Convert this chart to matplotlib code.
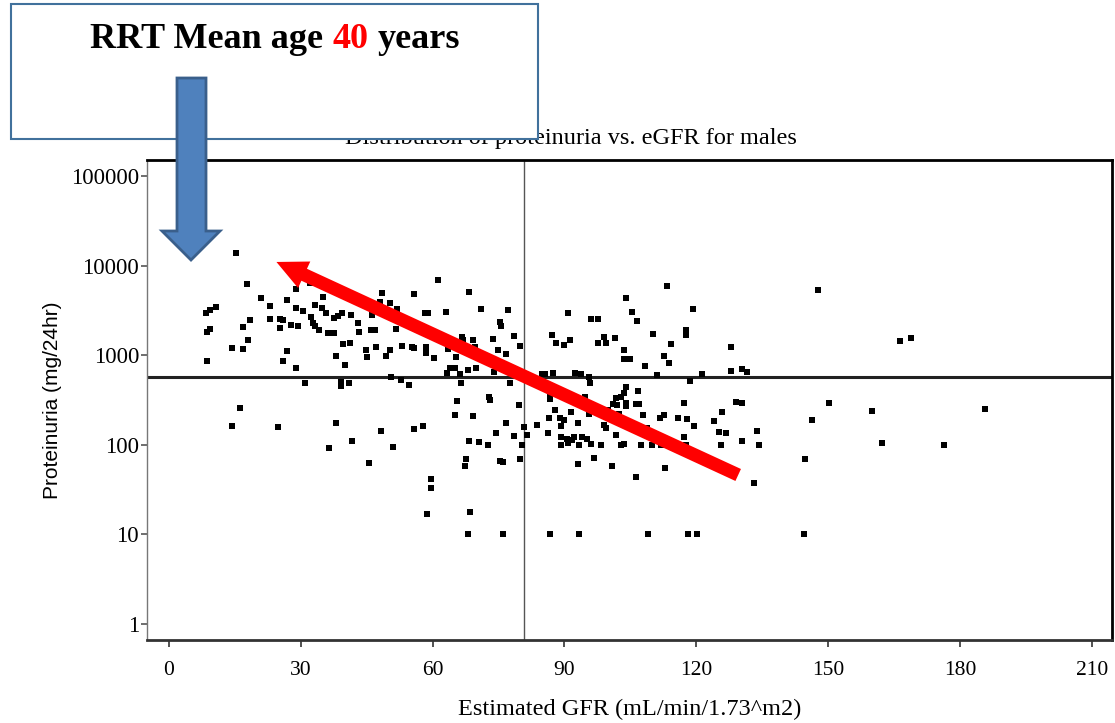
import matplotlib
matplotlib.use('Agg')
import matplotlib.pyplot as plt
from matplotlib.patches import Rectangle, Polygon
from matplotlib.offsetbox import TextArea, HPacker, AnnotationBbox
from matplotlib.ticker import NullLocator

# eGFR (mL/min/1.73m2) and proteinuria (mg/24hr) per patient
egfr = [15.2, 17.9, 21.1, 23.1, 26.8, 29.0, 32.2, 35.1, 8.4, 9.3, 10.7, 18.4, 17.0, 23.1, 25.2, 26.1,
        25.4, 27.7, 29.5, 29.0, 30.6, 33.3, 34.9, 32.4, 32.9, 33.3, 34.2, 35.8, 37.6, 38.5, 39.5, 41.5,
        43.1, 43.3, 46.3, 46.0, 46.9, 48.5, 48.1, 50.3, 51.9, 51.7, 36.3, 37.6, 8.8, 9.3, 18.1, 14.5,
        16.8, 8.8, 27.0, 26.1, 29.0, 38.1, 40.1, 39.7, 41.3, 44.9, 45.1, 47.2, 49.4, 50.3, 50.6, 31.1,
        39.2, 41.0, 39.2, 16.3, 14.5, 24.9, 38.1, 48.3, 41.7, 36.5, 51.0, 45.6,
        61.2, 55.8, 68.3, 58.3, 59.0, 63.0, 71.0, 77.1, 75.3, 75.5, 66.7, 66.9, 69.2, 73.7, 78.5, 79.8,
        53.1, 55.3, 55.8, 58.5, 58.5, 60.3, 63.5, 65.3, 69.6, 74.8, 76.6, 63.9, 65.1, 63.3, 66.2, 68.0,
        69.8, 73.9, 52.8, 54.6, 66.4, 77.6, 72.8, 73.0, 65.5, 79.6, 65.1, 69.2, 55.8, 57.8, 76.6, 80.7,
        74.4, 78.5, 68.3, 70.5, 72.6, 80.3, 67.6, 67.3, 75.3, 76.0, 79.8, 81.4,
        90.9, 96.1, 97.7, 87.1, 88.0, 90.0, 91.2, 97.7, 84.8, 85.5, 87.5, 92.3, 93.7, 95.5, 95.7, 86.6,
        86.8, 86.8, 94.6, 87.8, 91.4, 95.5, 86.4, 88.9, 90.0, 93.0, 83.7, 86.2, 89.3, 89.1, 90.5, 91.6,
        92.1, 93.9, 95.2, 89.1, 93.2, 96.1, 93.0, 96.8, 90.9,
        113.4, 103.9, 105.4, 106.6, 119.3, 110.2, 117.7, 117.7, 98.9, 99.5, 101.6, 114.3, 127.9, 103.6,
        103.6, 105.0, 112.7, 113.8, 108.4, 127.9, 130.4, 131.5, 111.1, 121.3, 118.6, 104.1, 103.6, 102.9,
        106.8, 101.8, 101.1, 102.0, 104.1, 103.9, 106.3, 107.0, 117.2, 129.0, 130.4, 100.0, 102.3, 107.9,
        111.8, 112.7, 115.9, 117.9, 125.9, 124.0, 98.9, 99.5, 108.8, 119.5, 101.8, 125.2, 126.8, 133.8,
        117.2, 130.4, 98.4, 102.9, 103.6, 107.5, 109.8, 117.7, 125.6, 134.2, 100.7, 112.9, 112.0, 106.3,
        133.1, 144.7, 109.1, 118.1, 120.2, 144.4,
        59.6, 59.6, 58.7, 68.5, 68.0, 76.0, 86.8, 93.2,
        147.6, 166.2, 168.7, 150.1, 146.3, 159.9, 185.7, 162.1, 176.2]

proteinuria = [13800, 6230, 4350, 3540, 4130, 5480, 6390, 4460, 2960, 3190, 3450, 2470, 2065, 2535, 2535, 2470,
               2010, 2173, 2118, 3364, 3113, 3632, 3364, 2670, 2287, 2118, 1910, 2960, 2600, 2738, 2960, 2810,
               2287, 1815, 2810, 1910, 1910, 4945, 3925, 3826, 3280, 1960, 1770, 1770, 1815, 1960, 1479, 1203,
               1173, 861, 1114, 861, 720, 980, 778, 1334, 1368, 1143, 955, 1235, 980, 1143, 571, 490,
               502, 490, 453, 258, 162, 158, 175, 143, 110, 92, 95, 63,
               6900, 4820, 5075, 2960, 2960, 3035, 3280, 3190, 2348, 2118, 1596, 1479, 1479, 1517, 1637, 1267,
               1267, 1235, 1203, 1235, 1058, 931, 1173, 955, 1235, 1143, 1031, 720, 720, 633, 617, 684,
               720, 649, 529, 465, 490, 490, 342, 316, 308, 278, 215, 210, 150, 162, 175, 158,
               135, 125, 110, 107, 100, 100, 70, 58, 66, 64, 70, 129,
               2960, 2535, 2535, 1680, 1368, 1300, 1479, 1368, 617, 617, 633, 633, 617, 571, 490, 442,
               342, 324, 342, 245, 232, 221, 199, 199, 189, 175, 166, 135, 162, 122, 116, 113,
               122, 122, 116, 100, 100, 102, 61, 71, 105,
               5920, 4350, 3035, 2409, 3280, 1725, 1910, 1680, 1596, 1368, 1556, 1334, 1235, 1143,
               907, 907, 980, 818, 757, 666, 701, 649, 601, 617, 515, 442, 379, 342,
               399, 333, 285, 278, 293, 270, 285, 285, 293, 300, 293, 245, 221, 215,
               199, 215, 199, 194, 232, 184, 166, 154, 154, 162, 129, 139, 135, 143,
               122, 110, 100, 100, 102, 100, 100, 100, 100, 100, 58, 55, 100, 44,
               37.5, 70, 10, 10, 10, 10,
               41.5, 33, 16.9, 17.8, 10, 10, 10, 10,
               5340, 1440, 1556, 293, 189, 238, 251, 105, 100]

x_ticks = [0, 30, 60, 90, 120, 150, 180, 210]
y_ticks = [1, 10, 100, 1000, 10000, 100000]
y_tick_labels = ['1', '10', '100', '1000', '10000', '100000']

# reference lines
median_egfr = 80.7
median_protein = 575

# red trend arrow (tail -> head) in data units
trend_tail = (129.5, 46)
trend_head = (24.5, 11000)

plt.rcParams['font.family'] = ['Liberation Serif', 'DejaVu Serif']

W, H = 1115, 723
fig = plt.figure(figsize=(W / 100, H / 100), dpi=100)


def fx(px):
    return px / W


def fy(py):
    return 1 - py / H


ax = fig.add_axes([fx(146.7), fy(640), fx(1112) - fx(146.7), fy(160) - fy(640)])
ax.set_yscale('log')
ax.set_xlim(-5, 214.5)
ax.set_ylim(10 ** -0.18, 10 ** 5.18)

ax.scatter(egfr, proteinuria, marker='s', s=21, c='black', linewidths=0, zorder=3)
ax.axhline(median_protein, color='#222222', lw=2.2, zorder=2)
ax.axvline(median_egfr, color='#555555', lw=1, zorder=2)

ax.annotate('', xy=trend_head, xytext=trend_tail,
            arrowprops=dict(arrowstyle='simple,head_length=2.2,head_width=2.1,tail_width=0.95',
                            mutation_scale=10, color='red', lw=0, shrinkA=0, shrinkB=0),
            zorder=5)

ax.set_xticks(x_ticks)
ax.set_yticks(y_ticks, y_tick_labels)
ax.yaxis.set_minor_locator(NullLocator())
ax.tick_params(axis='x', direction='out', length=5, width=1.2, pad=10, labelsize=15.5, color='#333333')
ax.tick_params(axis='y', direction='out', length=4, width=1.2, pad=1.5, labelsize=16.5, color='#555555')

for side in ['top', 'right']:
    ax.spines[side].set_linewidth(2)
    ax.spines[side].set_color('black')
ax.spines['bottom'].set_linewidth(2)
ax.spines['bottom'].set_color('#333333')
ax.spines['left'].set_linewidth(1)
ax.spines['left'].set_color('#777777')

ax.set_xlabel('Estimated GFR (mL/min/1.73^m2)', fontsize=17.5)
ax.xaxis.set_label_coords(0.5, -0.122)
ax.set_ylabel('Proteinuria (mg/24hr)', fontsize=15, family=['Liberation Sans', 'DejaVu Sans'])
ax.yaxis.set_label_coords(-0.088, 0.5)

fig.text(fx(571), fy(144), 'Distribution of proteinuria vs. eGFR for males',
         ha='center', va='baseline', fontsize=17.5, zorder=3)

# callout box with the blue arrow
fig.add_artist(Rectangle((fx(11), fy(139)), fx(538) - fx(11), fy(4) - fy(139),
                         transform=fig.transFigure, facecolor='white', edgecolor='#41719C',
                         lw=1.5, zorder=4))
arrow_px = [(177, 78), (206, 78), (206, 231), (220, 231), (191, 260), (162, 231), (177, 231)]
fig.add_artist(Polygon([(fx(a), fy(b)) for a, b in arrow_px], closed=True,
                       transform=fig.transFigure, facecolor='#4F81BD', edgecolor='#3A5F8B',
                       lw=2, zorder=5))

bold = dict(fontsize=26, fontweight='bold', color='black')
parts = HPacker(children=[TextArea('RRT Mean age', textprops=bold),
                          TextArea('40', textprops=dict(bold, color='#FF0000')),
                          TextArea('years', textprops=bold)],
                align='baseline', pad=0, sep=6.5)
ab = AnnotationBbox(parts, (fx(275), fy(40)), xycoords='figure fraction',
                    frameon=False, box_alignment=(0.5, 0.5), zorder=6)
fig.add_artist(ab)

fig.savefig('out.png', dpi=100)
